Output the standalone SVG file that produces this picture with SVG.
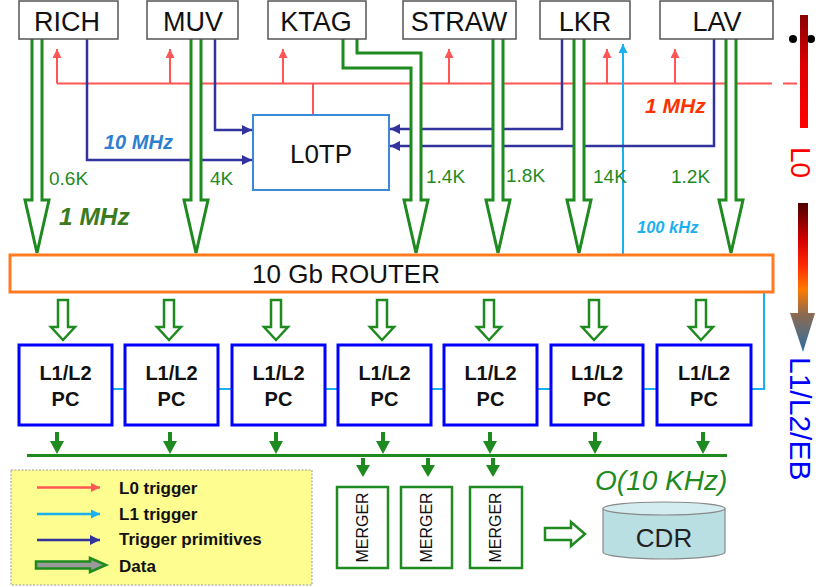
<svg xmlns="http://www.w3.org/2000/svg" width="819" height="587" viewBox="0 0 819 587">
<style>
text{font-family:"Liberation Sans",Arial,sans-serif}
.det rect{fill:#fff;stroke:#555;stroke-width:1.5}
.det text{font-size:27px;text-anchor:middle;fill:#111}
.pc rect{fill:#fff;stroke:#0000ff;stroke-width:3}
.pc text{font-size:20px;font-weight:bold;text-anchor:middle;fill:#111}
.data{fill:#fff;stroke:#1f8a1f;stroke-width:3;stroke-linejoin:miter}
.data2{fill:#fff;stroke:#1f8a1f;stroke-width:2.5}
.red{fill:none;stroke:#ff5555;stroke-width:2}
.blue{fill:none;stroke:#33339e;stroke-width:2.5}
.cyan{fill:none;stroke:#1ab0f0;stroke-width:2}
.gsolid{fill:#1f8a1f;stroke:none}
.gline{stroke:#1f8a1f;stroke-width:3}
.num{font-size:19px;fill:#1f8a1f}
.merger rect{fill:#fff;stroke:#1f8a1f;stroke-width:2.5}
.merger text{font-size:16px;text-anchor:middle;fill:#111}
.leg{font-size:17px;font-weight:bold;fill:#111}
</style>
<defs>
<marker id="ar" viewBox="0 0 10 10" refX="10" refY="5" markerWidth="9" markerHeight="9" markerUnits="userSpaceOnUse" orient="auto"><path d="M0,0 L10,5 L0,10 Z" fill="#ff5555"/></marker>
<marker id="ab" viewBox="0 0 10 10" refX="10" refY="5" markerWidth="10" markerHeight="10" markerUnits="userSpaceOnUse" orient="auto"><path d="M0,0 L10,5 L0,10 Z" fill="#33339e"/></marker>
<marker id="ac" viewBox="0 0 10 10" refX="10" refY="5" markerWidth="9" markerHeight="9" markerUnits="userSpaceOnUse" orient="auto"><path d="M0,0 L10,5 L0,10 Z" fill="#1ab0f0"/></marker>
<linearGradient id="g1" x1="0" y1="15" x2="0" y2="128" gradientUnits="userSpaceOnUse"><stop offset="0" stop-color="#8a0000"/><stop offset="0.45" stop-color="#e00000"/><stop offset="1" stop-color="#ff0000"/></linearGradient>
<linearGradient id="g2" x1="0" y1="203" x2="0" y2="352" gradientUnits="userSpaceOnUse"><stop offset="0" stop-color="#4d0000"/><stop offset="0.25" stop-color="#d40000"/><stop offset="0.42" stop-color="#ff2a00"/><stop offset="0.58" stop-color="#ff7a00"/><stop offset="0.75" stop-color="#8a6a50"/><stop offset="1" stop-color="#2e6fa5"/></linearGradient>
</defs>

<g id="connectors">
  <path class="red" d="M57,83.5 H772"/>
  <path class="red" d="M783,83.5 H797"/>
  <path class="red" d="M57,83.5 V49" marker-end="url(#ar)"/>
  <path class="red" d="M170,83.5 V49" marker-end="url(#ar)"/>
  <path class="red" d="M283,83.5 V49" marker-end="url(#ar)"/>
  <path class="red" d="M449,83.5 V49" marker-end="url(#ar)"/>
  <path class="red" d="M607,83.5 V49" marker-end="url(#ar)"/>
  <path class="red" d="M675,83.5 V49" marker-end="url(#ar)"/>
  <path class="red" d="M313,83.5 V115"/>
  <path class="cyan" d="M623,255 V44" marker-end="url(#ac)"/>
  <path class="cyan" d="M764,292 V389 H751"/>
  <path class="cyan" d="M112,389 H125 M218,389 H232 M325,389 H338 M431,389 H444 M537,389 H551 M643,389 H657"/>
  <path class="blue" d="M87,39 V160 H252" marker-end="url(#ab)"/>
  <path class="blue" d="M215,39 V130 H252" marker-end="url(#ab)"/>
  <path class="blue" d="M562,39 V129 H390" marker-end="url(#ab)"/>
  <path class="blue" d="M714,39 V146 H390" marker-end="url(#ab)"/>
  <path class="data" d="M32,39 V200 H25 L37,253 L49,200 H42 V39"/>
  <path class="data" d="M191,39 V200 H184 L196,253 L208,200 H201 V39"/>
  <path class="data" d="M343,39 V68 H411 V200 H404 L416,253 L428,200 H421 V53 H357 V39"/>
  <path class="data" d="M493,39 V200 H486 L498,253 L510,200 H503 V39"/>
  <path class="data" d="M574,39 V200 H567 L579,253 L591,200 H584 V39"/>
  <path class="data" d="M726,39 V200 H719 L731,253 L743,200 H736 V39"/>
  <path class="data2" d="M58,300 H68 V327 H75 L63,340 L51,327 H58 Z"/>
  <path class="data2" d="M164,300 H174 V327 H181 L169,340 L157,327 H164 Z"/>
  <path class="data2" d="M271,300 H281 V327 H288 L276,340 L264,327 H271 Z"/>
  <path class="data2" d="M377,300 H387 V327 H394 L382,340 L370,327 H377 Z"/>
  <path class="data2" d="M484,300 H494 V327 H501 L489,340 L477,327 H484 Z"/>
  <path class="data2" d="M589,300 H599 V327 H606 L594,340 L582,327 H589 Z"/>
  <path class="data2" d="M696,300 H706 V327 H713 L701,340 L689,327 H696 Z"/>
  <path class="gline" d="M27,455.5 H727"/>
  <g class="gsolid">
    <path d="M55,432 h4 v9 h5 l-7,13 l-7,-13 h5 z"/>
    <path d="M168,432 h4 v9 h5 l-7,13 l-7,-13 h5 z"/>
    <path d="M274,432 h4 v9 h5 l-7,13 l-7,-13 h5 z"/>
    <path d="M381,432 h4 v9 h5 l-7,13 l-7,-13 h5 z"/>
    <path d="M488,432 h4 v9 h5 l-7,13 l-7,-13 h5 z"/>
    <path d="M593,432 h4 v9 h5 l-7,13 l-7,-13 h5 z"/>
    <path d="M701,432 h4 v9 h5 l-7,13 l-7,-13 h5 z"/>
    <path d="M361,458 h4 v7 h5 l-7,12 l-7,-12 h5 z"/>
    <path d="M426,458 h4 v7 h5 l-7,12 l-7,-12 h5 z"/>
    <path d="M491,458 h4 v7 h5 l-7,12 l-7,-12 h5 z"/>
  </g>
  <path class="data2" d="M545,528 H571 V522 L585,534 L571,546 V540 H545 Z"/>
</g>

<g id="RICH" class="det"><rect x="19" y="1" width="99" height="38"/><text x="67" y="31">RICH</text></g>
<g id="MUV" class="det"><rect x="147" y="1" width="91" height="38"/><text x="193" y="31">MUV</text></g>
<g id="KTAG" class="det"><rect x="268" y="1" width="98" height="38"/><text x="316" y="31">KTAG</text></g>
<g id="STRAW" class="det"><rect x="403" y="1" width="113" height="38"/><text x="459" y="31">STRAW</text></g>
<g id="LKR" class="det"><rect x="540" y="1" width="90" height="38"/><text x="585" y="31">LKR</text></g>
<g id="LAV" class="det"><rect x="660" y="1" width="113" height="38"/><text x="717" y="31">LAV</text></g>

<g id="L0TP"><rect x="253" y="115" width="136" height="75" fill="#fff" stroke="#3a8ad6" stroke-width="2"/><text x="321" y="163" font-size="26" text-anchor="middle" fill="#111">L0TP</text></g>

<g id="router"><rect x="10" y="255" width="763" height="37" fill="#fff" stroke="#ff7a20" stroke-width="3"/><text x="346" y="283" font-size="26" text-anchor="middle" fill="#111">10 Gb ROUTER</text></g>

<g id="pc1" class="pc"><rect x="19" y="345" width="93" height="80"/><text x="65.5" y="380">L1/L2</text><text x="65.5" y="406">PC</text></g>
<g id="pc2" class="pc"><rect x="125" y="345" width="93" height="80"/><text x="171.5" y="380">L1/L2</text><text x="171.5" y="406">PC</text></g>
<g id="pc3" class="pc"><rect x="232" y="345" width="93" height="80"/><text x="278.5" y="380">L1/L2</text><text x="278.5" y="406">PC</text></g>
<g id="pc4" class="pc"><rect x="338" y="345" width="93" height="80"/><text x="384.5" y="380">L1/L2</text><text x="384.5" y="406">PC</text></g>
<g id="pc5" class="pc"><rect x="444" y="345" width="93" height="80"/><text x="490.5" y="380">L1/L2</text><text x="490.5" y="406">PC</text></g>
<g id="pc6" class="pc"><rect x="551" y="345" width="92" height="80"/><text x="597" y="380">L1/L2</text><text x="597" y="406">PC</text></g>
<g id="pc7" class="pc"><rect x="657" y="345" width="94" height="80"/><text x="704" y="380">L1/L2</text><text x="704" y="406">PC</text></g>

<g id="merger1" class="merger"><rect x="337" y="487" width="51" height="81"/><text transform="translate(368,527.5) rotate(-90)">MERGER</text></g>
<g id="merger2" class="merger"><rect x="401" y="487" width="51" height="81"/><text transform="translate(432,527.5) rotate(-90)">MERGER</text></g>
<g id="merger3" class="merger"><rect x="470" y="487" width="52" height="81"/><text transform="translate(501,527.5) rotate(-90)">MERGER</text></g>

<g id="CDR">
  <path d="M603,508.5 V552 A61,7 0 0 0 725,552 V508.5" fill="#b9dfe3" stroke="#888" stroke-width="1.2"/>
  <ellipse cx="664" cy="508.5" rx="61" ry="6.5" fill="#d3ecef" stroke="#888" stroke-width="1.2"/>
  <text x="664" y="547" font-size="26" text-anchor="middle" fill="#222">CDR</text>
</g>

<g id="labels">
  <text x="104" y="149" font-size="20" font-weight="bold" font-style="italic" fill="#2f7fd0">10 MHz</text>
  <text x="645" y="113" font-size="21" font-weight="bold" font-style="italic" fill="#ff3300">1 MHz</text>
  <text x="59" y="225" font-size="24.5" font-weight="bold" font-style="italic" fill="#3a7a20">1 MHz</text>
  <text x="637" y="233" font-size="16.5" font-weight="bold" font-style="italic" fill="#1ab0f0">100 kHz</text>
  <text class="num" x="49" y="185">0.6K</text>
  <text class="num" x="210" y="185">4K</text>
  <text class="num" x="426" y="183">1.4K</text>
  <text class="num" x="506" y="182">1.8K</text>
  <text class="num" x="593" y="183">14K</text>
  <text class="num" x="671" y="183">1.2K</text>
  <text x="595" y="490" font-size="28" font-style="italic" fill="#1f8a1f">O(10 KHz)</text>
</g>

<g id="levels">
  <circle cx="793" cy="39" r="4" fill="#000"/>
  <circle cx="811" cy="39" r="4" fill="#000"/>
  <rect x="800" y="15" width="8" height="113" fill="url(#g1)"/>
  <text transform="translate(791,147) rotate(90)" font-size="28" fill="#ff0000">L0</text>
  <path d="M798,203 H808 V313 H815 L803,352 L790,313 H798 Z" fill="url(#g2)"/>
  <text transform="translate(790,357) rotate(90)" font-size="30" fill="#0000ff">L1/L2/EB</text>
</g>

<g id="legend">
  <rect x="11" y="470" width="301" height="115" fill="#fdfd90" stroke="#999" stroke-width="1" stroke-dasharray="2,1.5"/>
  <path d="M37,487.5 H100" stroke="#ff5555" stroke-width="2.5" marker-end="url(#ar)"/>
  <path d="M37,514 H100" stroke="#1ab0f0" stroke-width="2.5" marker-end="url(#ac)"/>
  <path d="M37,540 H100" stroke="#33339e" stroke-width="2.5" marker-end="url(#ab)"/>
  <path d="M36,561.5 H90 V558 L106,565 L90,572 V568.5 H36 Z" fill="#9a9a9a" stroke="#1f8a1f" stroke-width="2.5"/>
  <text class="leg" x="119" y="494">L0 trigger</text>
  <text class="leg" x="119" y="520">L1 trigger</text>
  <text class="leg" x="119" y="545">Trigger primitives</text>
  <text class="leg" x="119" y="572">Data</text>
</g>
</svg>
